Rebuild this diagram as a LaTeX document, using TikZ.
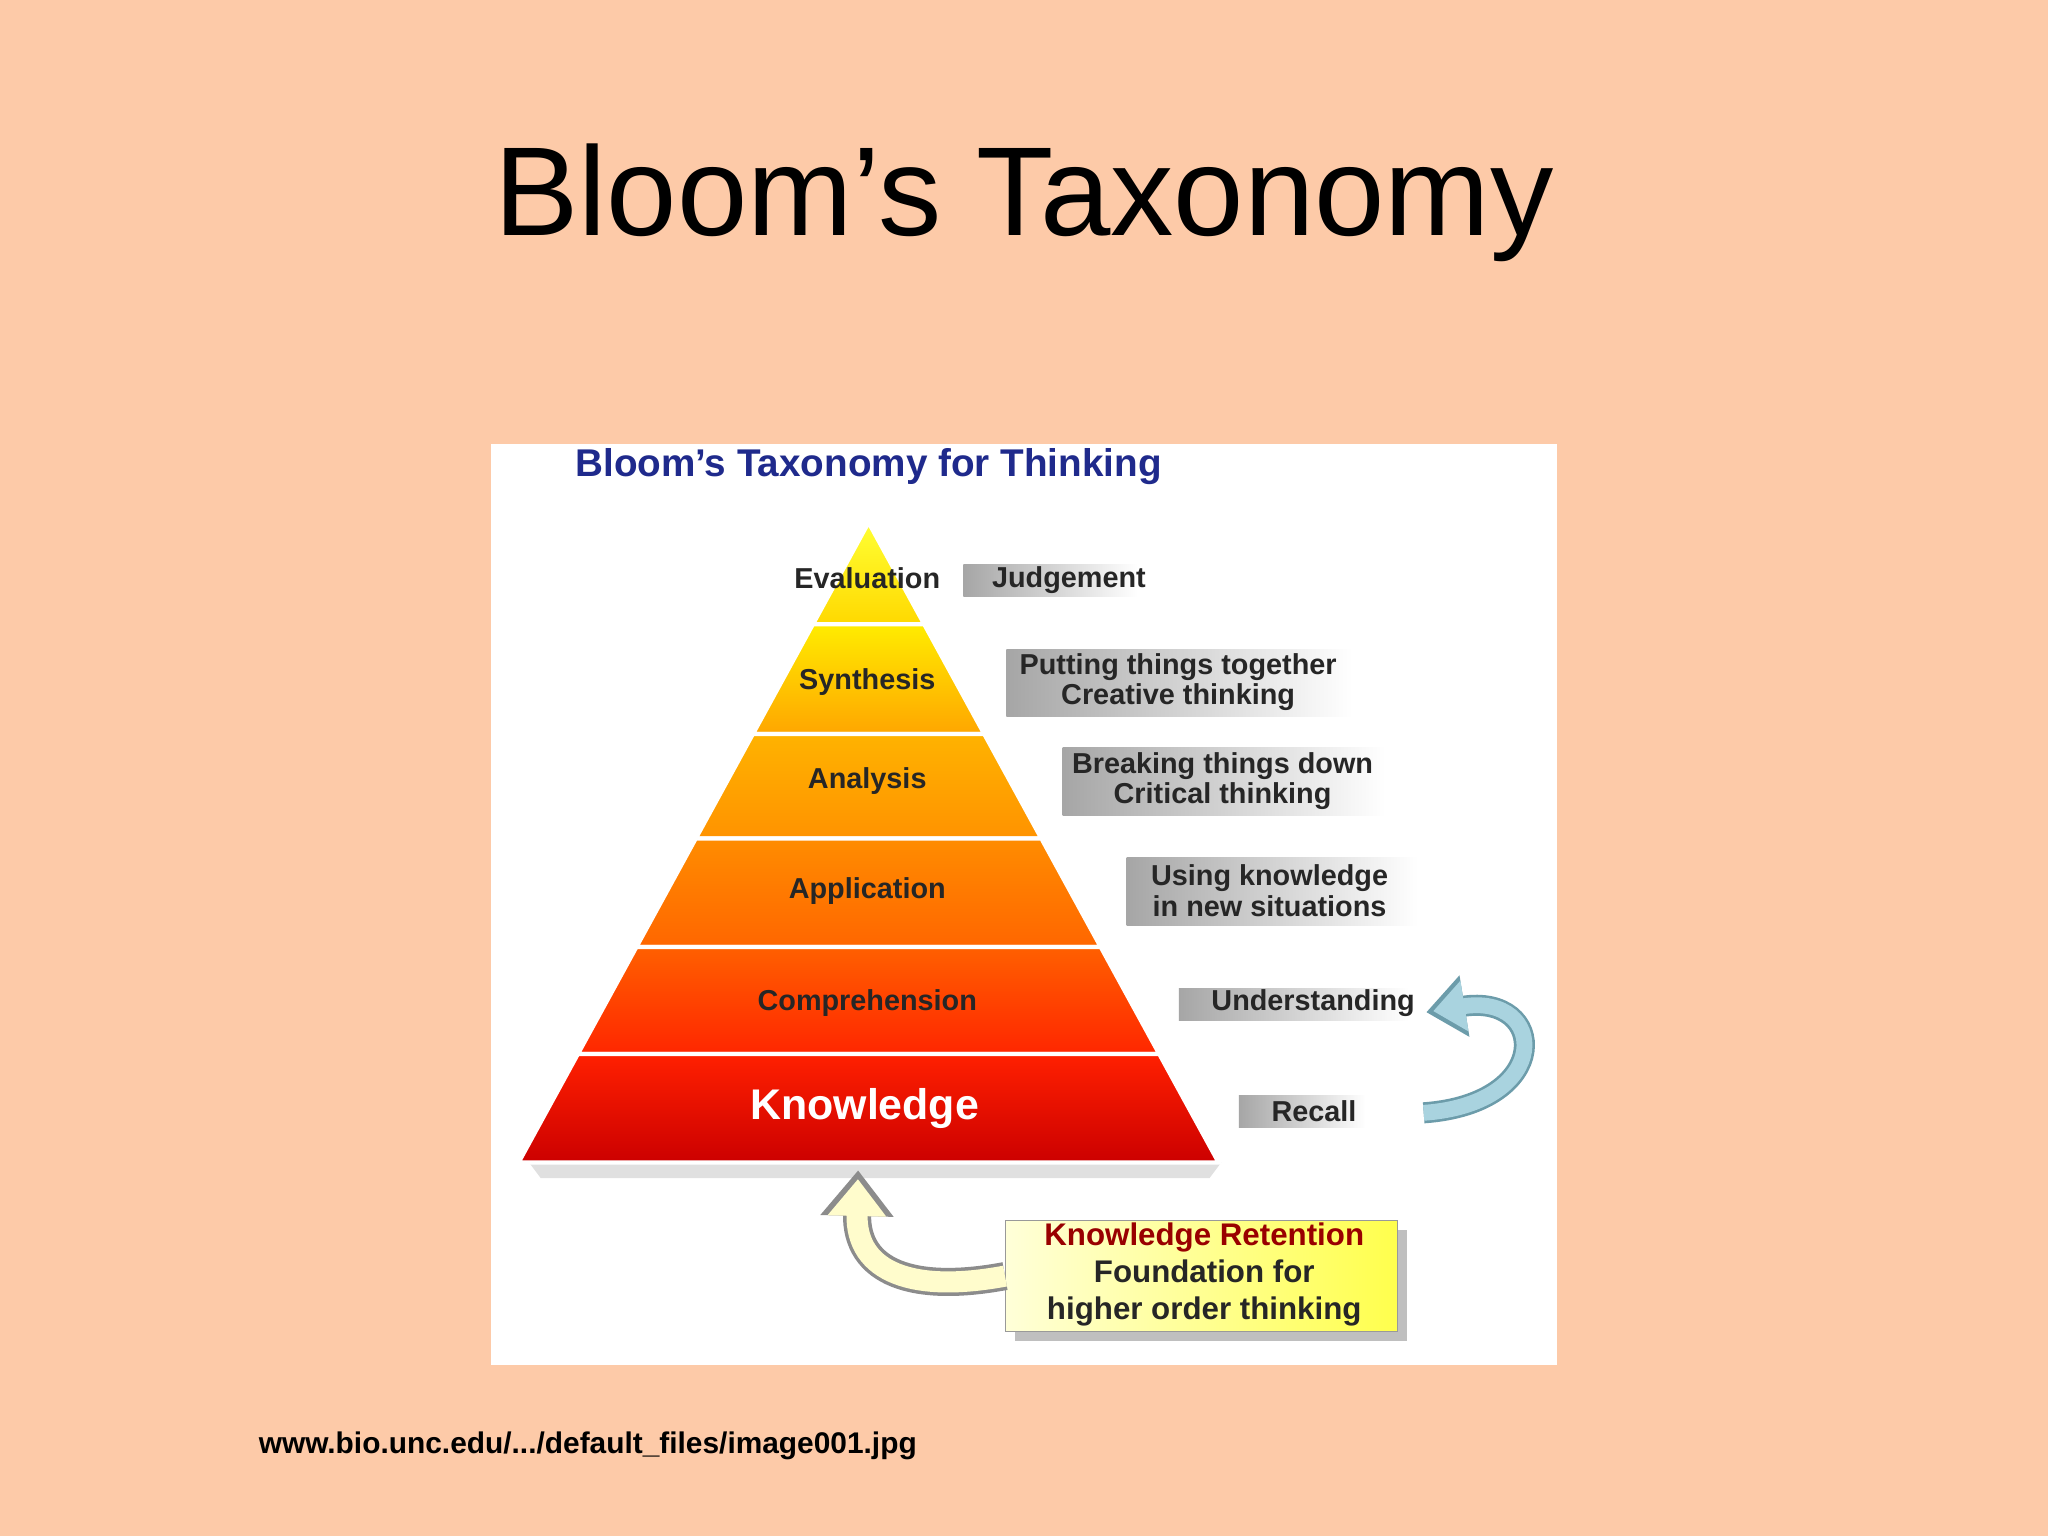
\documentclass[tikz,border=0pt]{standalone}
\usepackage{fontspec}
\setmainfont{Liberation Sans}
\usetikzlibrary{arrows.meta,shadows}
\definecolor{peach}{HTML}{FDCAA8}
\definecolor{dblue}{HTML}{1F2A8C}
\definecolor{arrblue}{HTML}{A9D3DF}
\definecolor{arredge}{HTML}{6C9CAA}
\begin{document}
\begin{tikzpicture}[x=0.013061cm,y=-0.013061cm,
  lab/.style={font=\bfseries\fontsize{8.2}{9.6}\selectfont,text=black!85,align=center},
  gbox/.style={left color=black!35,right color=white,inner sep=0pt,anchor=north west},
  band/.style={draw=white,line width=1.2pt}]
\fill[peach] (0,0) rectangle (1568,1176);
\node (title) at (784,155) {\fontsize{36}{42}\selectfont Bloom’s Taxonomy};
\fill[white] (376,340) rectangle (1192,1045);
\node[font=\bfseries\fontsize{11}{12}\selectfont,text=dblue] (sub) at (665,357) {Bloom's Taxonomy for Thinking};
% pyramid
\def\lx#1{665-(#1-400)*0.5469}
\def\rx#1{665+(#1-400)*0.5469}
\fill[black!12] (405,890) -- (935,890) -- (926,902) -- (414,902) -- cycle;
\shade[band,top color=yellow!80!white,bottom color=yellow!70!orange] (665,400) -- ({\rx{478}},478) -- ({\lx{478}},478) -- cycle;
\shade[band,top color=yellow!85!orange,bottom color=orange!70!yellow] ({\lx{478}},478) -- ({\rx{478}},478) -- ({\rx{562}},562) -- ({\lx{562}},562) -- cycle;
\shade[band,top color=orange!60!yellow,bottom color=orange!85!yellow] ({\lx{562}},562) -- ({\rx{562}},562) -- ({\rx{642}},642) -- ({\lx{642}},642) -- cycle;
\shade[band,top color=orange!90!yellow,bottom color=orange!80!red] ({\lx{642}},642) -- ({\rx{642}},642) -- ({\rx{725}},725) -- ({\lx{725}},725) -- cycle;
\shade[band,top color=orange!75!red,bottom color=red!70!orange] ({\lx{725}},725) -- ({\rx{725}},725) -- ({\rx{807}},807) -- ({\lx{807}},807) -- cycle;
\shade[band,top color=red!75!orange,bottom color=red!80!black] ({\lx{807}},807) -- ({\rx{807}},807) -- ({\rx{890}},890) -- ({\lx{890}},890) -- cycle;
\node[lab] (eval) at (664,443) {Evaluation};
\node[lab] (syn) at (664,522) {Synthesis};
\node[lab] (ana) at (664,598) {Analysis};
\node[lab] (app) at (664,682) {Application};
\node[lab] (comp) at (664,768) {Comprehension};
\node[lab,text=white,font=\bfseries\fontsize{12.2}{14}\selectfont] (know) at (662,849) {Knowledge};
% gray boxes
\node[gbox,minimum width=133*0.013061cm,minimum height=24*0.013061cm] (b1) at (737,432) {};
\node[lab,anchor=west] at (750,444) {Judgement};
\node[gbox,minimum width=265*0.013061cm,minimum height=51*0.013061cm] (b2) at (770,497) {};
\node[lab] at (902,522) {Putting things together\\[-1pt]Creative thinking};
\node[gbox,minimum width=247*0.013061cm,minimum height=52*0.013061cm] (b3) at (813,572) {};
\node[lab] at (936,598) {Breaking things down\\[-1pt]Critical thinking};
\node[gbox,minimum width=223*0.013061cm,minimum height=52*0.013061cm] (b4) at (862,656) {};
\node[lab] at (972,682) {Using knowledge\\[-1pt]in new situations};
\node[gbox,minimum width=176*0.013061cm,minimum height=25*0.013061cm] (b5) at (902,756) {};
\node[lab,anchor=west] at (918,768) {Understanding};
\node[gbox,minimum width=97*0.013061cm,minimum height=25*0.013061cm] (b6) at (948,838) {};
\node[lab,anchor=west] at (964,851) {Recall};
% curved blue arrow
\coordinate (ua) at (1090,852);
\coordinate (ub) at (1092,775);
\draw[arredge,line width=6pt,-{Triangle[length=11pt,width=17pt]}] (ua) .. controls (1190,845) and (1185,760) .. (ub);
\draw[arrblue,line width=4.5pt,shorten >=2pt,-{Triangle[length=9pt,width=14pt]}] (ua) .. controls (1190,845) and (1185,760) .. (ub);
% knowledge retention
\node[draw=black!40,left color=yellow!15,right color=yellow!70,minimum width=300*0.013061cm,minimum height=85*0.013061cm,drop shadow] (kr) at (920,977) {};
\coordinate (kt) at (657,896);
\draw[black!45,line width=8pt,-{Triangle[length=13pt,width=20pt]}] (kr.west) .. controls (700,990) and (655,975) .. (kt);
\draw[yellow!20,line width=6pt,shorten >=2.5pt,-{Triangle[length=10.5pt,width=16pt]}] (kr.west) .. controls (700,990) and (655,975) .. (kt);
\node[lab,font=\bfseries\fontsize{8.9}{10.5}\selectfont] (krt) at (922,976) {\textcolor{red!60!black}{Knowledge Retention}\\Foundation for\\higher order thinking};
\node[font=\bfseries\fontsize{8.5}{10}\selectfont] (foot) at (450,1107) {www.bio.unc.edu/.../default\_files/image001.jpg};
\end{tikzpicture}
\end{document}
